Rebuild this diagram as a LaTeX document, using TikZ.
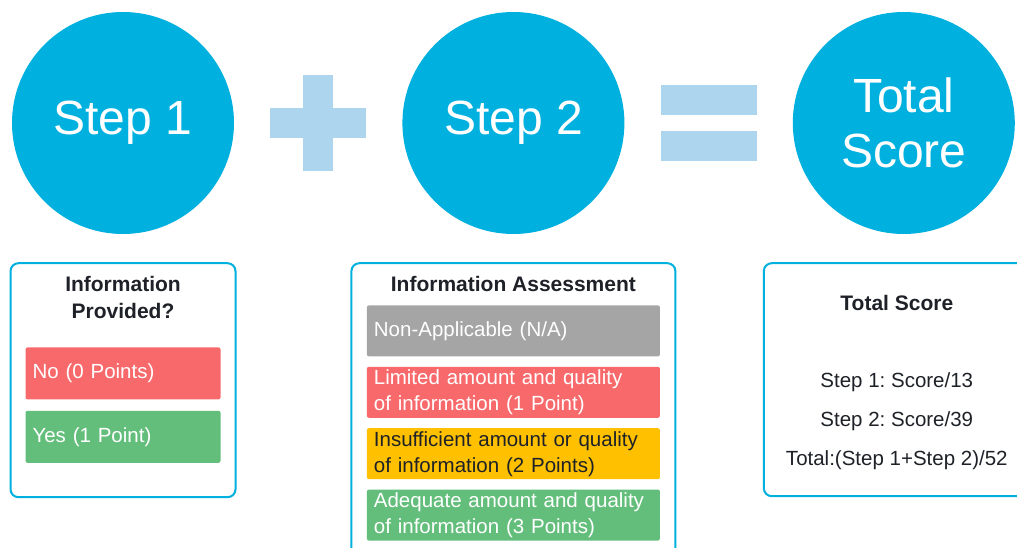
\documentclass[tikz,border=0pt]{standalone}
\usepackage{fontspec}
\setmainfont{Liberation Sans}
\frenchspacing
\usetikzlibrary{positioning, calc}
\definecolor{stepblue}{RGB}{0, 176, 223}
\definecolor{signblue}{RGB}{174, 213, 238}
\definecolor{barred}{RGB}{248, 105, 107}
\definecolor{bargreen}{RGB}{99, 190, 123}
\definecolor{barorange}{RGB}{255, 192, 0}
\definecolor{bargray}{RGB}{165, 165, 165}
\definecolor{inkdark}{RGB}{30, 34, 40}

\begin{document}
\begin{tikzpicture}[
            x=1pt, y=-1pt,
            stepcircle/.style={circle, fill=stepblue, minimum size=222pt, inner sep=0pt, align=center, text=white, font=\fontsize{48}{55}\selectfont},
            panel/.style={draw=stepblue, line width=2pt, rounded corners=8pt, fill=white},
            paneltitle/.style={font=\fontsize{21}{27}\selectfont\bfseries, text=inkdark, align=center},
            bar/.style={rounded corners=2pt, inner xsep=7pt, inner ysep=0pt, align=left, text=white, font=\fontsize{20.5}{26}\selectfont},
            shortbar/.style={bar, minimum width=195pt, minimum height=52pt, text width=181pt},
            widebar/.style={bar, minimum width=293pt, minimum height=51pt, text width=279pt},
            scoreline/.style={font=\fontsize{20.5}{24}\selectfont, text=inkdark}
        ]
            \useasboundingbox (0,0) rectangle (1017,548);
            \clip (0,0) rectangle (1017,548);
            \fill[white] (0,0) rectangle (1017,548);

            % the three circles
            \node[stepcircle] (step1) at (123,123) {Step 1};
            \node[stepcircle, right=168pt of step1] (step2) {Step 2};
            \node[stepcircle, right=168pt of step2] (total) {Total\\Score};

            % plus and equals signs between the circles
            \coordinate (plus) at ($(step1)!0.5!(step2)$);
            \coordinate (equals) at ($(step2)!0.5!(total)$);
            \fill[signblue] ($(plus)+(-48,-15)$) rectangle ($(plus)+(48,15)$);
            \fill[signblue] ($(plus)+(-15,-48)$) rectangle ($(plus)+(15,48)$);
            \fill[signblue] ($(equals)+(-48,-38)$) rectangle ($(equals)+(48,-8)$);
            \fill[signblue] ($(equals)+(-48,8)$) rectangle ($(equals)+(48,38)$);

            % step 1 panel
            \node[panel, minimum width=225pt, minimum height=234pt, below=28pt of step1] (provided) {};
            \node[paneltitle, below=11pt of provided.north] (provtitle) {Information\\Provided?};
            \node[shortbar, fill=barred, below=85pt of provided.north] (nopts) {No (0 Points)};
            \node[shortbar, fill=bargreen, below=11pt of nopts] (yespts) {Yes (1 Point)};

            % step 2 panel
            \node[panel, minimum width=324pt, minimum height=300pt, below=28pt of step2] (assess) {};
            \node[paneltitle, below=11pt of assess.north] (asstitle) {Information Assessment};
            \node[widebar, fill=bargray, below=43pt of assess.north] (napts) {Non-Applicable (N/A)};
            \node[widebar, fill=barred, below=10pt of napts] (onept) {Limited amount and quality\\of information (1 Point)};
            \node[widebar, fill=barorange, text=inkdark, below=10pt of onept] (twopts) {Insufficient amount or quality\\of information (2 Points)};
            \node[widebar, fill=bargreen, below=10pt of twopts] (threepts) {Adequate amount and quality\\of information (3 Points)};

            % total score panel
            \node[panel, minimum width=266pt, minimum height=233pt, below=28pt of total, xshift=-7pt] (score) {};
            \node[paneltitle] (scoretitle) at ($(score.north)+(0,41)$) {Total Score};
            \node[scoreline] (line1) at ($(score.north)+(0,120)$) {Step 1: Score/13};
            \node[scoreline] (line2) at ($(score.north)+(0,159)$) {Step 2: Score/39};
            \node[scoreline] (line3) at ($(score.north)+(0,198)$) {Total:(Step 1+Step 2)/52};
        \end{tikzpicture}
\end{document}
